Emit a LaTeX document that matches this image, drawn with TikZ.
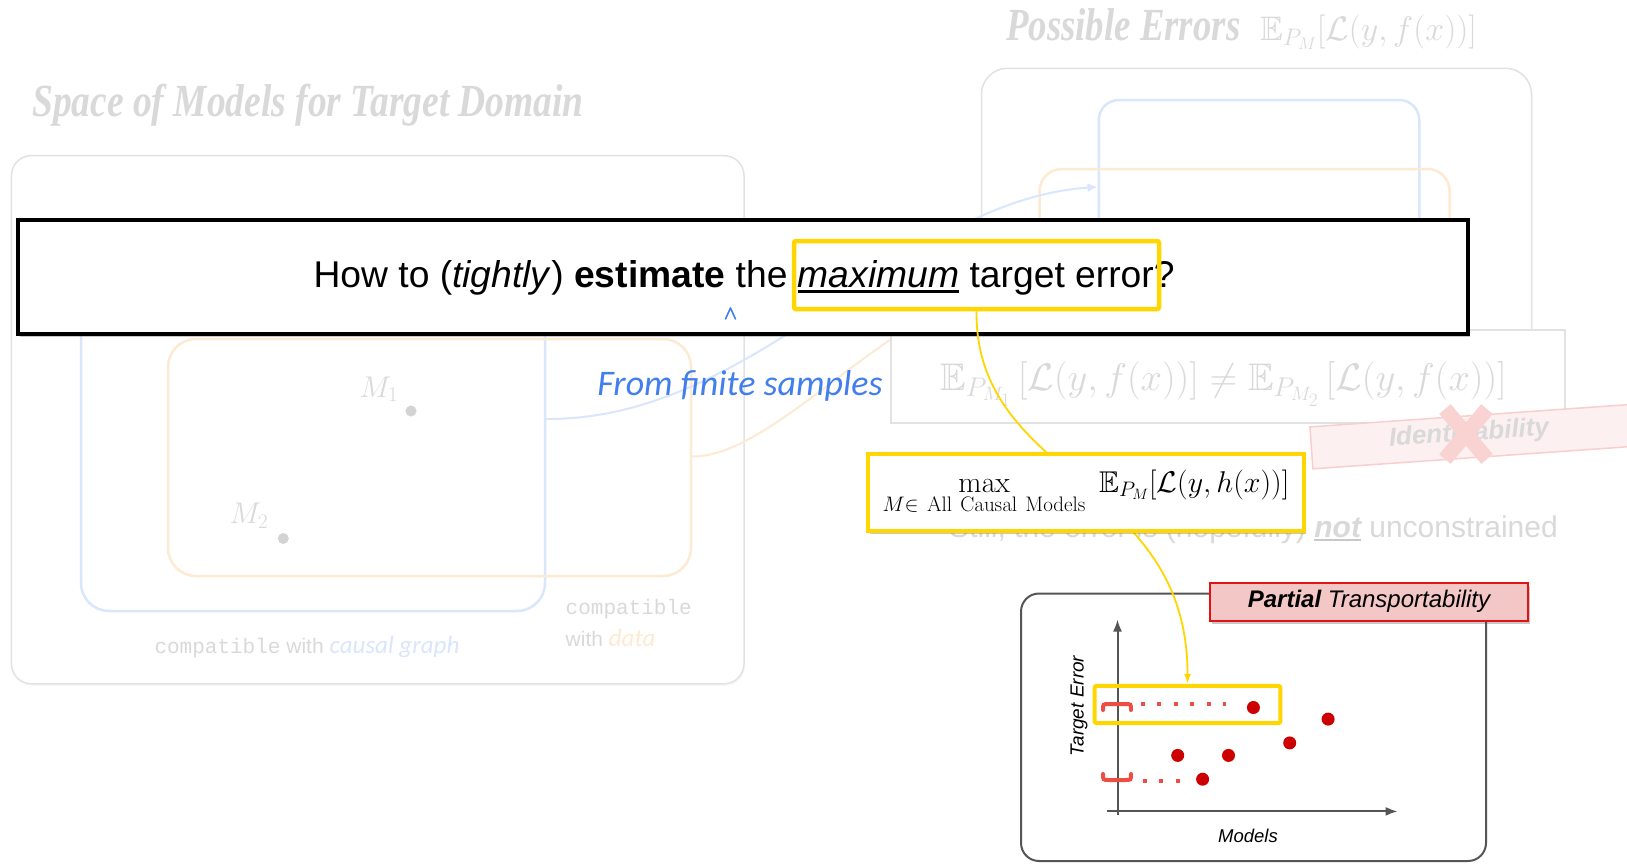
\RequirePackage{fix-cm}
\documentclass[tikz,border=0pt]{standalone}
\usepackage[no-math]{fontspec}
\usepackage{amsmath,amssymb}
\usepackage{graphicx}
\setmainfont{Liberation Sans}
\newfontfamily\serifbi{Liberation Serif}
\newfontfamily\handf{Carlito}
\newfontfamily\monof{Liberation Mono}
\usetikzlibrary{arrows.meta,shadows}
\definecolor{ylw}{RGB}{255,214,0}
\definecolor{fadegrey}{RGB}{217,217,217}
\definecolor{fadegreyB}{RGB}{200,200,200}
\definecolor{fadeborder}{RGB}{226,226,226}
\definecolor{fadeblue}{RGB}{218,230,251}
\definecolor{fadeorange}{RGB}{253,234,210}
\definecolor{handblue}{RGB}{66,127,237}
\definecolor{axisgrey}{RGB}{85,85,85}
\definecolor{dotred}{RGB}{204,0,0}
\definecolor{brred}{RGB}{236,78,68}
\definecolor{labpink}{RGB}{244,199,199}
\definecolor{labred}{RGB}{228,18,18}
\definecolor{stampfill}{RGB}{253,240,240}
\definecolor{stampline}{RGB}{248,206,206}
\definecolor{stampx}{RGB}{249,210,210}
\newcommand{\thickul}[2]{\setbox0\hbox{#1}\rlap{\color{#2}\rule[-0.14em]{\wd0}{0.07em}}\box0\relax}
\tikzset{
  fadebox/.style={draw=fadeborder, line width=1.5pt, fill=white, rounded corners=20pt, inner sep=0pt,
    drop shadow={opacity=0.06, shadow xshift=1pt, shadow yshift=-2pt}},
  blueset/.style={draw=fadeblue, line width=2.5pt, rounded corners=28pt, inner sep=0pt},
  orangeset/.style={draw=fadeorange, line width=2.5pt, rounded corners=28pt, inner sep=0pt},
  fadetitle/.style={text=fadegrey, inner sep=0pt},
  mdot/.style={circle, fill=fadegreyB!80, inner sep=0pt, minimum size=11pt},
  rdot/.style={circle, fill=dotred, inner sep=0pt, minimum size=13pt},
  ylwbox/.style={draw=ylw, line width=4.5pt, inner sep=0pt, rounded corners=2pt},
  softshadow/.style={drop shadow={opacity=0.3, shadow xshift=2pt, shadow yshift=-3pt, fill=black!70}},
  axis/.style={draw=axisgrey, line width=2pt, -{Latex[length=12pt,width=9pt]}},
  bracket/.style={draw=brred, line width=4pt, line cap=round},
  dotline/.style={draw=brred, line width=4pt, dash pattern=on 4pt off 12.4pt},
}
\begin{document}
\begin{tikzpicture}[x=1pt,y=-1pt]
\useasboundingbox (0,0) rectangle (1627,863);
\fill[white] (0,0) rectangle (1627,863);

% ---------- faded background: left panel ----------
\node[fadetitle] (ltitle) at (308,105) {\scalebox{0.815}[1]{\serifbi\bfseries\itshape\fontsize{46}{46}\selectfont Space of Models for Target Domain}};
\node[fadebox, minimum width=732.6pt, minimum height=528.2pt] (Lbox) at (377.7,419.7) {};
\node[blueset, minimum width=464pt, minimum height=356pt] (Lblue) at (313,433) {};
\node[orangeset, minimum width=523pt, minimum height=237pt] (Lorange) at (429.5,457.5) {};
\node[text=fadegrey, inner sep=0pt] (m1lab) at (379,389) {\fontsize{30}{30}\selectfont$M_1$};
\node[mdot] (m1) at (411,411) {};
\node[text=fadegrey, inner sep=0pt] (m2lab) at (249,515.7) {\fontsize{30}{30}\selectfont$M_2$};
\node[mdot] (m2) at (283.3,538.5) {};
\node[inner sep=0pt, anchor=base] (cg) at (307,653) {\fontsize{21}{21}\selectfont\color{fadegrey}{\monof compatible} with {\handf\itshape\fontsize{25}{25}\selectfont\color{fadeblue}causal graph}};
\node[inner sep=0pt, anchor=base west] (cd1) at (565.5,614) {\fontsize{21}{21}\selectfont\color{fadegrey}\monof compatible};
\node[inner sep=0pt, anchor=base west] (cd2) at (565.5,646) {\fontsize{21}{21}\selectfont\color{fadegrey}with {\handf\itshape\fontsize{25}{25}\selectfont\color{fadeorange}data}};

% ---------- faded background: right panel ----------
\node[fadetitle, anchor=west] (rtitle) at (1006,29) {\scalebox{0.8}[1]{\serifbi\bfseries\itshape\fontsize{46}{46}\selectfont Possible Errors}\hspace{20pt}\fontsize{34}{34}\selectfont$\mathbb{E}_{P_M}[\mathcal{L}(y,f(x))]$};
\node[fadebox, rounded corners=26pt, minimum width=550pt, minimum height=331.5pt] (Rbox) at (1256.5,234) {};
\node[blueset, rounded corners=20pt, minimum width=320.5pt, minimum height=260pt] (Rblue) at (1259,230) {};
\node[orangeset, rounded corners=22pt, minimum width=410pt, minimum height=211pt] (Rorange) at (1244.6,274.5) {};

% faded connectors
\draw[fadeblue, line width=2pt, -{Latex[length=10pt,width=9pt]}]
  ([yshift=14pt]Lblue.east) .. controls (760,420) and (900,200) .. ([yshift=43pt]Rblue.west);
\draw[fadeorange, line width=2pt]
  ([yshift=1pt]Lorange.east) .. controls (780,457) and (900,290) .. (Rorange.west);

% inequality box
\node[draw=fadeborder, line width=1.5pt, fill=white, inner sep=0pt, minimum width=674pt, minimum height=93pt] (Ebox) at (1228,376.5) {};
\node[inner sep=0pt, text=fadegrey, anchor=east] (Etext) at (1507,384) {\fontsize{38.5}{40}\selectfont$\mathbb{E}_{P_{M_1}}\,[\mathcal{L}(y,f(x))]\neq\mathbb{E}_{P_{M_2}}\,[\mathcal{L}(y,f(x))]$};

% identifiability stamp
\node[rotate=4, draw=stampline, line width=1.5pt, fill=stampfill, minimum width=340pt, minimum height=42pt, inner sep=0pt] (stamp) at (1481,436) {};
\node[rotate=4, inner sep=0pt, text=fadegrey] (stamptxt) at (1469,434) {\fontsize{26}{26}\selectfont\bfseries\itshape Identifiability};
\coordinate (xc) at (1466,434);
\draw[stampx, line width=15pt] ([shift={(-21pt,-25pt)}]xc) -- ([shift={(21pt,25pt)}]xc);
\draw[stampx, line width=15pt] ([shift={(-21pt,25pt)}]xc) -- ([shift={(21pt,-25pt)}]xc);

% hidden note
\node[anchor=base east, inner sep=0pt, text=fadegrey] (still) at (1558,537) {\fontsize{30}{30}\selectfont Still, the error is (hopefully) \thickul{\bfseries\itshape not}{fadegreyB} unconstrained};

% ---------- main question ----------
\node[draw=black, line width=4pt, fill=white, inner sep=0pt, minimum width=1450.4pt, minimum height=114pt, softshadow] (qbox) at (742.8,277) {};
\node[anchor=base west, inner sep=0pt] (q) at (313.4,287.5) {\fontsize{37.25}{40}\selectfont How to (\textit{tightly}) \textbf{estimate} the \thickul{\itshape maximum}{black} target error?};
\node[ylwbox, minimum width=365pt, minimum height=68pt] (hl) at (976.5,275) {};
\draw[handblue, line width=1.6pt, line cap=round, line join=round] (725.5,319) -- (730.5,308) -- (735.5,319);
\node[inner sep=0pt, text=handblue] (fs) at (740,386) {\handf\itshape\fontsize{36}{36}\selectfont From finite samples};

% ---------- chart ----------
\node[draw=axisgrey, line width=2pt, fill=white, rounded corners=18pt, minimum width=465pt, minimum height=267.5pt, inner sep=0pt] (chart) at (1253.5,727.25) {};
\node[draw=labred, line width=2pt, fill=labpink, minimum width=318pt, minimum height=37.5pt, inner sep=0pt, softshadow] (plab) at (1369,601.75) {\fontsize{24}{24}\selectfont\itshape\textbf{Partial} Transportability};
\coordinate (yb) at (1117.5,815);
\coordinate (yt) at (1117.5,619.5);
\coordinate (xl) at (1107,811.4);
\coordinate (xr) at (1397.6,811.4);
\draw[axis] (yb) -- (yt);
\draw[axis] (xl) -- (xr);
\node[rotate=90, inner sep=0pt] (ylab) at (1079,706) {\fontsize{19}{19}\selectfont\itshape Target Error};
\node[inner sep=0pt] (xlab) at (1248,836) {\fontsize{18.5}{18.5}\selectfont\itshape Models};
\node[ylwbox, line width=4pt, minimum width=185.7pt, minimum height=37.3pt] (chl) at (1187.5,704.5) {};
\node[rdot] (d1) at (1253.4,707.5) {};
\node[rdot] (d2) at (1328.1,719.1) {};
\node[rdot] (d3) at (1289.7,742.9) {};
\node[rdot] (d4) at (1177.7,755.4) {};
\node[rdot] (d5) at (1228.5,755.4) {};
\node[rdot] (d6) at (1202.6,779.2) {};
\draw[bracket] (1103,710) .. controls (1103,704) .. (1109,704) -- (1125,704) .. controls (1131,704) .. (1131,710);
\draw[bracket] (1103,774) .. controls (1103,780) .. (1109,780) -- (1125,780) .. controls (1131,780) .. (1131,774);
\coordinate (u1) at (1141,704);
\coordinate (u2) at (1226,704);
\coordinate (l1) at (1143,781);
\coordinate (l2) at (1180,781);
\draw[dotline] (u1) -- (u2);
\draw[dotline] (l1) -- (l2);

% ---------- yellow link ----------
\draw[ylw, line width=1.8pt, -{Latex[length=10pt,width=7pt]}]
  (hl.south) .. controls (975,480) and (1188,480) .. (chl.north);

% ---------- max box ----------
\node[draw=ylw, line width=4pt, fill=white, minimum width=436pt, minimum height=77pt, inner sep=0pt, softshadow] (mx) at (1086,492.5)
  {\fontsize{30}{30}\selectfont$\displaystyle\max_{M\in\mathrm{\ All\ Causal\ Models}}\;\mathbb{E}_{P_M}[\mathcal{L}(y,h(x))]$};
\end{tikzpicture}
\end{document}
